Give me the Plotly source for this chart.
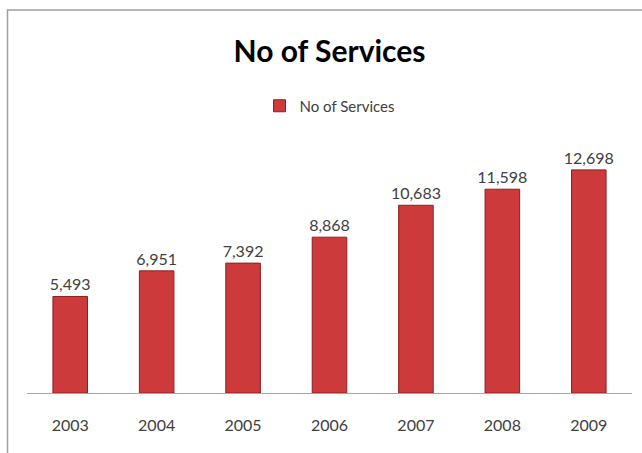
import plotly.graph_objects as go

years = ["2003", "2004", "2005", "2006", "2007", "2008", "2009"]
services = [5493, 6951, 7392, 8868, 10683, 11598, 12698]

W, H = 642, 453
ml, mr, mt, mb = 27, 10, 147, 60
pw = W - ml - mr
ph = H - mt - mb

fig = go.Figure()
fig.add_trace(go.Bar(
    x=years, y=services, name="No of Services",
    marker=dict(color="#CC3A3C", line=dict(color="#8E1F21", width=1)),
    texttemplate="%{y:,}", textposition="outside",
    textfont=dict(family="Lato", size=16, color="#404040"),
    constraintext="none",
    cliponaxis=False,
))

def px_x(p):
    return (p - ml) / pw

def px_y(p):
    return (H - mb - p) / ph

fig.update_layout(
    width=W, height=H,
    margin=dict(l=ml, r=mr, t=mt, b=mb),
    paper_bgcolor="white", plot_bgcolor="white",
    bargap=0.6,
    title=dict(text="<b>No of Services</b>", x=0.5, xanchor="center",
               xref="paper", y=1 - 51 / H, yanchor="middle", yref="container",
               font=dict(family="Lato", size=30, color="#000000")),
    showlegend=True,
    legend=dict(orientation="h", x=0.5, xanchor="center", y=1 - 106 / H,
                yanchor="middle", yref="container",
                font=dict(family="Lato", size=15, color="#404040"),
                itemwidth=30),
    xaxis=dict(showline=True, linecolor="#A6A6A6", linewidth=1, ticks="",
               tickfont=dict(family="Lato", size=16, color="#404040"),
               ticklabelstandoff=18, showgrid=False),
    yaxis=dict(range=[0, 14000], visible=False, showgrid=False),
    shapes=[dict(type="path", xref="paper", yref="paper",
                 path=f"M {px_x(7.5)} {px_y(460)} L {px_x(7.5)} {px_y(10)} L {px_x(660)} {px_y(10)}",
                 line=dict(color="#A0A0A0", width=1.5))],
    font=dict(family="Lato"),
)

fig.write_html("out.html", config={"displayModeBar": False},
               post_script="document.body.style.margin='0px';")
